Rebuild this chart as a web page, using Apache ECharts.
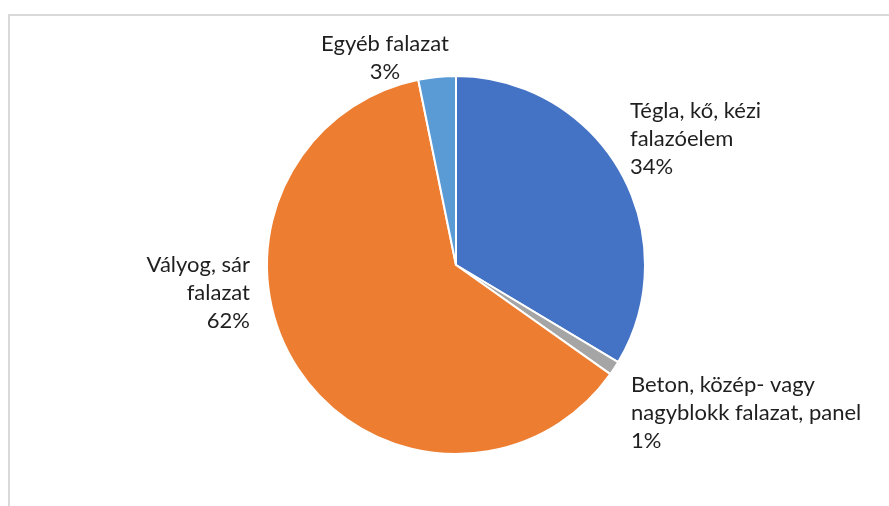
<!DOCTYPE html>
<html>
<head>
<meta charset="utf-8">
<script src="https://cdn.jsdelivr.net/npm/echarts@6/dist/echarts.min.js"></script>
<style>
    html, body { margin: 0; padding: 0; background: #fff; }
    #chart { width: 889px; height: 506px; }
</style>
</head>
<body>
<div id="chart"></div>
<script>
// slice names (with the line breaks used in the labels) and values in percent
const categories = ['Tégla, kő, kézi\nfalazóelem', 'Beton, közép- vagy\nnagyblokk falazat, panel', 'Vályog, sár\nfalazat', 'Egyéb falazat']
const values = [33.6, 1.2, 62.0, 3.2]
const colors = ['#4472C4', '#A5A5A5', '#ED7D31', '#5B9BD5']

// where each label sits (label block anchor)
const labelPos = [
    {x: 630, y: 139, align: 'left'},
    {x: 631, y: 413, align: 'left'},
    {x: 250, y: 293, align: 'right'},
    {x: 385, y: 58, align: 'center'}
]

const chart = echarts.init(document.getElementById('chart'))
const option = {
    animation: false,
    color: colors,
    graphic: [{
        type: 'rect',
        shape: {x: 9, y: 15, width: 1000, height: 600},
        style: {fill: 'none', stroke: '#d9d9d9', lineWidth: 2},
        silent: true
    }],
    series: [{
        type: 'pie',
        center: [456, 265],
        radius: 189,
        startAngle: 90,
        clockwise: true,
        percentPrecision: 0,
        itemStyle: {borderColor: '#fff', borderWidth: 2},
        labelLine: {show: false},
        label: {
            show: true,
            position: 'outside',
            formatter: '{b}\n{d}%',
            fontFamily: 'Lato',
            fontSize: 22,
            lineHeight: 28,
            overflow: 'none',
            color: '#1f1f1f'
        },
        labelLayout: function (params) {
            const p = labelPos[params.dataIndex]
            return {x: p.x, y: p.y, align: p.align, verticalAlign: 'middle'}
        },
        data: categories.map((name, i) => ({name: name, value: values[i]}))
    }]
}
chart.setOption(option, true)
</script>
</body>
</html>
